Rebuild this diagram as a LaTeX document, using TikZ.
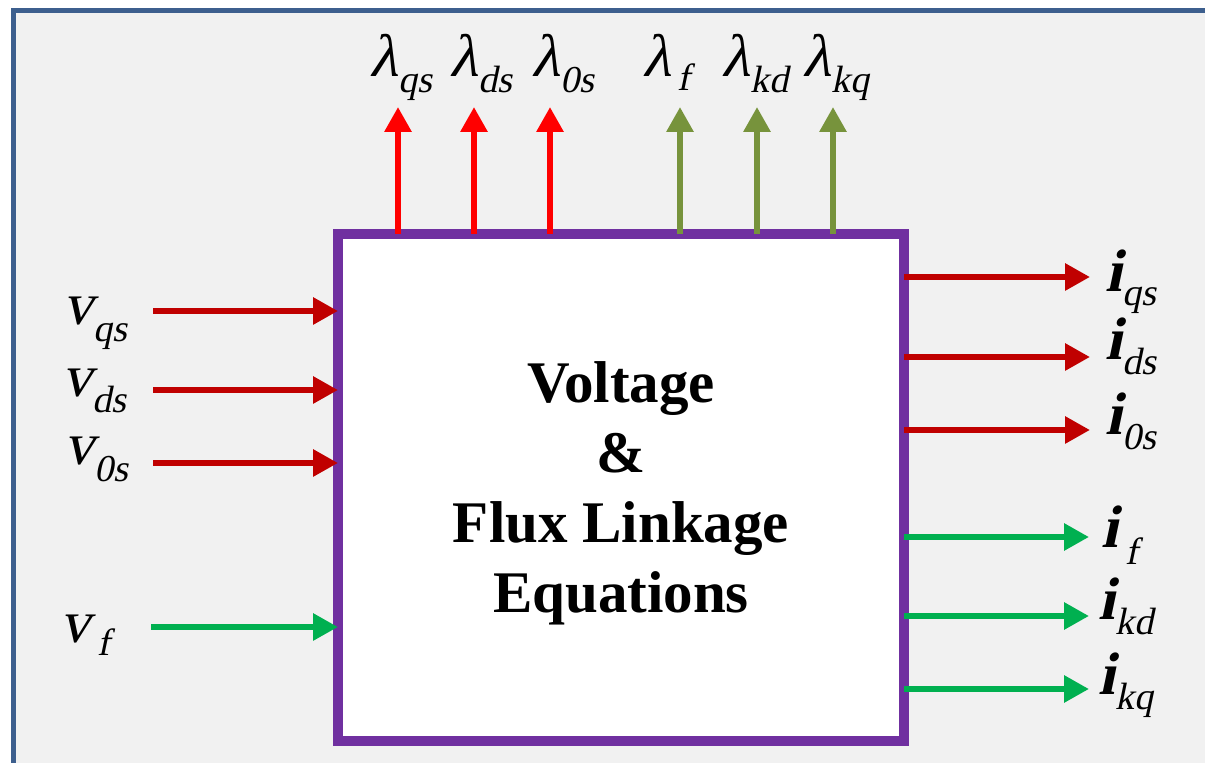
\documentclass[tikz,border=0pt]{standalone}
\usepackage{fontspec}
\setmainfont{Liberation Serif}
\newfontfamily\slantserif{Liberation Serif}[FakeSlant=0.21]
\usetikzlibrary{arrows.meta}
\definecolor{bgray}{HTML}{F1F1F1}
\definecolor{frameblue}{HTML}{3D5F8E}
\definecolor{boxpurple}{HTML}{7030A0}
\definecolor{darkred}{HTML}{C00000}
\definecolor{brightred}{HTML}{FF0000}
\definecolor{olivegreen}{HTML}{77933C}
\definecolor{sgreen}{HTML}{00B050}
\newcommand\sublbl[3]{#1\raisebox{-#3pt}{\mdseries\fontsize{19}{19}\selectfont #2}}
\begin{document}
\begin{tikzpicture}[x=0.5pt,y=-0.5pt,
  sig/.style={line width=3pt,-{Triangle[length=12.5pt,width=13pt]}},
  lbl/.style={inner sep=0pt,anchor=base west,font=\slantserif\fontsize{30}{30}\selectfont},
  ilbl/.style={inner sep=0pt,anchor=base west,font=\slantserif\bfseries\fontsize{30}{30}\selectfont},
  blockbox/.style={draw=boxpurple,line width=5pt,fill=white,minimum width=283pt,minimum height=253.5pt,inner sep=0pt,outer sep=0pt},
  titletext/.style={font=\fontsize{29.5}{35}\selectfont\bfseries,align=center,inner sep=0pt}]
\clip (0,0) rectangle (1205,763);
\fill[white] (0,0) rectangle (1205,763);
\fill[bgray] (13.5,10.5) rectangle (1215,775);
\draw[frameblue,line width=2.5pt] (13.5,775) -- (13.5,10.5) -- (1215,10.5);

\node[blockbox] (box) at (621,487.5) {};
\node[titletext] (title) at (621,493) {Voltage\\\&\\Flux Linkage\\Equations};

% left inputs
\node[lbl] (vqs) at (63,325) {\sublbl{v}{qs}{8.5}};
\node[lbl] (vds) at (62,397) {\sublbl{v}{ds}{8}};
\node[lbl] (v0s) at (64,465) {\sublbl{v}{0s}{8.5}};
\node[lbl] (vf) at (60,643) {\sublbl{v}{\kern3.5pt f}{6.5}};
\coordinate (vqsA) at (153,311);
\coordinate (vdsA) at (153,390);
\coordinate (v0sA) at (153,463);
\coordinate (vfA) at (151,627);
\draw[sig,darkred] (vqsA) -- (vqsA -| box.west);
\draw[sig,darkred] (vdsA) -- (vdsA -| box.west);
\draw[sig,darkred] (v0sA) -- (v0sA -| box.west);
\draw[sig,sgreen] (vfA) -- (vfA -| box.west);

% top outputs
\node[lbl] (lqs) at (369,77) {\sublbl{λ}{qs}{8}};
\node[lbl] (lds) at (449,77) {\sublbl{λ}{ds}{8}};
\node[lbl] (l0s) at (531,77) {\sublbl{λ}{0s}{8}};
\node[lbl] (lf) at (642,77) {\sublbl{λ}{\kern3pt f}{7}};
\node[lbl] (lkd) at (721,77) {\sublbl{λ}{kd}{8}};
\node[lbl] (lkq) at (802,77) {\sublbl{λ}{kq}{8}};
\coordinate (lqsT) at (398,107);
\coordinate (ldsT) at (474,107);
\coordinate (l0sT) at (550,107);
\coordinate (lfT) at (680,107);
\coordinate (lkdT) at (757,107);
\coordinate (lkqT) at (833,107);
\draw[sig,brightred] (lqsT |- box.north) -- (lqsT);
\draw[sig,brightred] (ldsT |- box.north) -- (ldsT);
\draw[sig,brightred] (l0sT |- box.north) -- (l0sT);
\draw[sig,olivegreen] (lfT |- box.north) -- (lfT);
\draw[sig,olivegreen] (lkdT |- box.north) -- (lkdT);
\draw[sig,olivegreen] (lkqT |- box.north) -- (lkqT);

% right outputs
\node[ilbl] (iqs) at (1105,292) {\sublbl{i}{qs}{7}};
\node[ilbl] (ids) at (1105,360) {\sublbl{i}{ds}{7.5}};
\node[ilbl] (i0s) at (1105,435) {\sublbl{i}{0s}{7.5}};
\node[ilbl] (if) at (1101,548) {\sublbl{i}{\kern3.5pt f}{8.5}};
\node[ilbl] (ikd) at (1098,620) {\sublbl{i}{kd}{7.5}};
\node[ilbl] (ikq) at (1098,695) {\sublbl{i}{kq}{7.5}};
\coordinate (iqsT) at (1090,277);
\coordinate (idsT) at (1090,357);
\coordinate (i0sT) at (1090,430);
\coordinate (ifT) at (1089,537);
\coordinate (ikdT) at (1089,616);
\coordinate (ikqT) at (1089,689);
\draw[sig,darkred] (iqsT -| box.east) -- (iqsT);
\draw[sig,darkred] (idsT -| box.east) -- (idsT);
\draw[sig,darkred] (i0sT -| box.east) -- (i0sT);
\draw[sig,sgreen] (ifT -| box.east) -- (ifT);
\draw[sig,sgreen] (ikdT -| box.east) -- (ikdT);
\draw[sig,sgreen] (ikqT -| box.east) -- (ikqT);
\end{tikzpicture}
\end{document}
